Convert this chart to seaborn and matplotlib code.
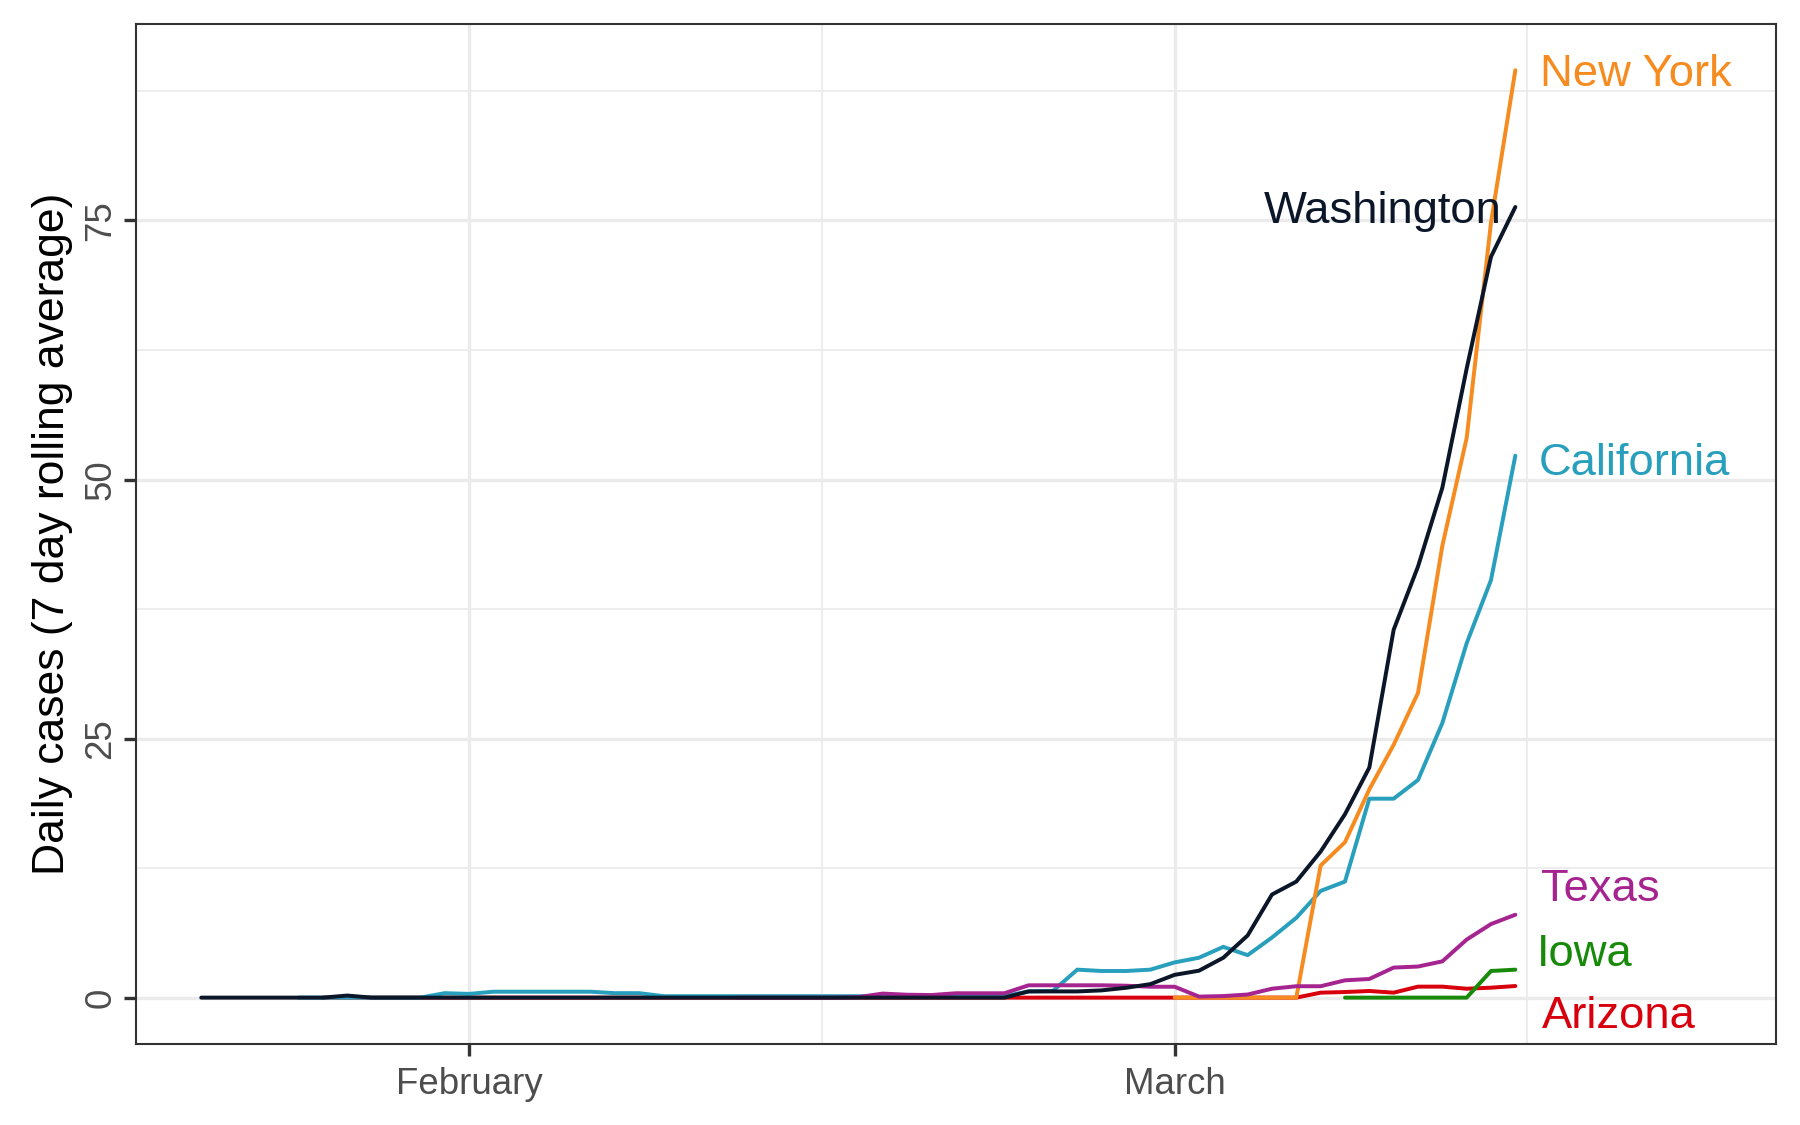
# ============================================================
# Daily COVID-19 cases per state, 7 day rolling average
# (early 2020), one line per state with direct labels.
# Saves: out.png
# ============================================================

import pandas as pd
import matplotlib
matplotlib.use("Agg")
import matplotlib.pyplot as plt
import matplotlib.dates as mdates
import seaborn as sns

# Colours we use for each state
COLOURS = {
    "Arizona":    "#D7000C",
    "California": "#289FBC",
    "Iowa":       "#188A09",
    "New York":   "#F68B1F",
    "Texas":      "#A5248F",
    "Washington": "#0B1629",
}
# draw order (last one on top)
STATES = ["Arizona", "California", "Iowa", "New York", "Texas", "Washington"]

# ─────────────────────────────────────────────────────────────
# DATA: first date of each series + one value per day
# ─────────────────────────────────────────────────────────────
WA_START = "2020-01-21"
WA_CASES = [0, 0, 0, 0, 0, 0, 0.2,
            0, 0, 0, 0, 0, 0, 0, 0, 0, 0, 0, 0, 0, 0,
            0, 0, 0, 0, 0, 0, 0, 0, 0, 0, 0, 0, 0,
            0.6, 0.6, 0.6, 0.7, 0.95, 1.3,
            2.2, 2.6, 3.85, 6.0, 9.95, 11.2, 14.1, 17.7, 22.2,
            35.5, 41.6, 49.2, 60.7, 71.5, 76.3]

CA_START = "2020-01-25"
CA_CASES = [0, 0, 0, 0, 0, 0, 0.43, 0.36,
            0.57, 0.57, 0.57, 0.57, 0.57, 0.43, 0.43,
            0.14, 0.14, 0.14, 0.14, 0.14, 0.14, 0.14, 0.14,
            0.14, 0.14, 0.14, 0.14, 0.14, 0.14, 0.14,
            0.6, 0.65, 2.7, 2.57, 2.57, 2.7,
            3.4, 3.85, 4.9, 4.1, 5.8, 7.7, 10.3, 11.2, 19.2,
            19.2, 21.0, 26.5, 34.2, 40.3, 52.3]

TX_START = "2020-02-12"
TX_CASES = [0, 0, 0, 0, 0, 0.05, 0.39, 0.28, 0.25, 0.42, 0.42, 0.42,
            1.19, 1.19, 1.19, 1.19, 1.15, 1.05,
            1.05, 0.1, 0.15, 0.3, 0.86, 1.1, 1.1, 1.67, 1.8,
            2.9, 3.0, 3.5, 5.6, 7.1, 8.0]

AZ_START = "2020-01-26"
AZ_CASES = [0, 0, 0, 0, 0, 0,
            0, 0, 0, 0, 0, 0, 0, 0, 0, 0, 0, 0, 0, 0, 0,
            0, 0, 0, 0, 0, 0, 0, 0, 0, 0, 0, 0, 0, 0,
            0, 0, 0, 0, 0, 0,
            0.48, 0.54, 0.64, 0.48, 1.06, 1.06, 0.86, 0.96, 1.12]

IA_START = "2020-03-08"
IA_CASES = [0, 0, 0, 0, 0, 0, 2.57, 2.7]

NY_START = "2020-03-01"
NY_CASES = [0, 0, 0, 0, 0, 0, 12.75, 15.0, 20.1, 24.4, 29.4,
            43.6, 54.0, 74.8, 89.5]

series = [
    ("Washington", WA_START, WA_CASES),
    ("California", CA_START, CA_CASES),
    ("Texas",      TX_START, TX_CASES),
    ("Arizona",    AZ_START, AZ_CASES),
    ("Iowa",       IA_START, IA_CASES),
    ("New York",   NY_START, NY_CASES),
]

frames = []
for state, start, vals in series:
    frames.append(pd.DataFrame({
        "state": state,
        "date":  pd.date_range(start, periods=len(vals), freq="D"),
        "cases": vals,
    }))
df = pd.concat(frames, ignore_index=True)

# Label placement: (state, days after 1 March, baseline y, alignment)
LABELS = [
    ("New York",   15.0,  88.0,  "left"),
    ("Washington", 13.44, 74.8,  "right"),
    ("California", 14.98, 50.4,  "left"),
    ("Texas",      15.05, 9.3,   "left"),
    ("Iowa",       14.87, 3.1,   "left"),
    ("Arizona",    15.08, -2.95, "left"),
]

# ─────────────────────────────────────────────────────────────
# PLOT
# ─────────────────────────────────────────────────────────────
sns.set_theme(style="white")
plt.rcParams["font.family"] = ["Liberation Sans", "DejaVu Sans"]

fig, ax = plt.subplots(figsize=(6, 3.75), dpi=300)
fig.subplots_adjust(left=0.0753, right=0.9864, bottom=0.072, top=0.9788)

sns.lineplot(data=df, x="date", y="cases", hue="state", hue_order=STATES,
             palette=COLOURS, linewidth=0.95, estimator=None, legend=False, ax=ax)

mar1 = pd.Timestamp("2020-03-01")
for state, days, y, ha in LABELS:
    ax.text(mar1 + pd.Timedelta(days=days), y, state, color=COLOURS[state],
            fontsize=10.9, ha=ha, va="baseline")

# limits: 5% padding left, extra room on the right for labels
first_day = df["date"].min()
last_day = df["date"].max()
span = (last_day - first_day).days
ax.set_xlim(first_day - pd.Timedelta(days=0.05 * span),
            last_day + pd.Timedelta(days=0.198 * span))
ymax = df["cases"].max()
ax.set_ylim(-0.05 * ymax, 1.05 * ymax)

# ticks + grid (theme_bw look)
ax.xaxis.set_major_locator(mdates.MonthLocator())
ax.xaxis.set_major_formatter(mdates.DateFormatter("%B"))
ax.set_xticks([mdates.date2num(pd.Timestamp("2020-02-15 12:00")),
               mdates.date2num(pd.Timestamp("2020-03-15 12:00"))], minor=True)
ax.set_yticks([0, 25, 50, 75])
ax.set_yticks([12.5, 37.5, 62.5, 87.5], minor=True)

ax.grid(which="major", color="#EBEBEB", linewidth=0.8)
ax.grid(which="minor", color="#EBEBEB", linewidth=0.42)
ax.set_axisbelow(True)

ax.tick_params(which="major", bottom=True, left=True, length=2.9, width=0.8,
               color="#333333", labelsize=8.8, labelcolor="#4D4D4D")
ax.tick_params(axis="x", which="major", pad=2.5)
ax.tick_params(axis="y", which="major", pad=1.2)
ax.tick_params(which="minor", length=0)
for lbl in ax.get_yticklabels():
    lbl.set_rotation(90)
    lbl.set_va("center")

for spine in ax.spines.values():
    spine.set_color("#333333")
    spine.set_linewidth(0.5)

ax.set_xlabel("")
ax.set_ylabel("Daily cases (7 day rolling average)", fontsize=10.7,
              color="black", labelpad=2.6)

plt.savefig("out.png", dpi=300)
plt.close()
print("Saved: out.png")
